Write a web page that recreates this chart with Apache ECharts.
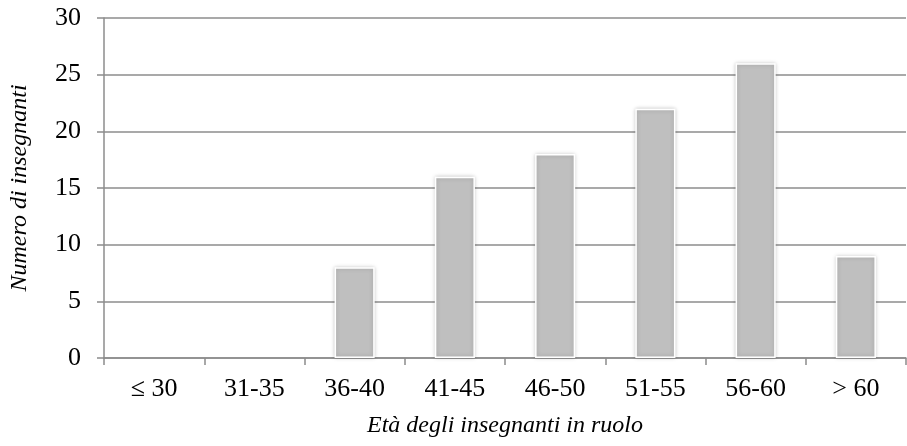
<!DOCTYPE html>
<html>
<head>
    <meta charset="utf-8">
    <title>Età degli insegnanti</title>
    <script src="https://cdn.jsdelivr.net/npm/echarts@6/dist/echarts.min.js"></script>
    <style>
        html, body { margin: 0; padding: 0; background: #fff; }
        #chart { width: 907px; height: 446px; }
    </style>
</head>
<body>
    <div id="chart"></div>
    <script>
        // categories and values
        var categories = ['\u2264 30', '31-35', '36-40', '41-45', '46-50', '51-55', '56-60', '> 60'];
        var teachers = [0, 0, 8, 16, 18, 22, 26, 9];
        var yTicks = [0, 5, 10, 15, 20, 25, 30];

        var chart = echarts.init(document.getElementById('chart'));
        var font = '"Liberation Serif", "Times New Roman", serif';
        var lineColor = '#8c8c8c';

        var option = {
            animation: false,
            grid: { left: 101, right: 1, top: 18, bottom: 88 },
            xAxis: {
                type: 'category',
                data: categories,
                name: 'Età degli insegnanti in ruolo',
                nameLocation: 'middle',
                nameGap: 56,
                nameTextStyle: { fontFamily: font, fontStyle: 'italic', fontSize: 24, color: '#000' },
                axisLine: { lineStyle: { color: lineColor, width: 1.5 } },
                axisTick: { show: true, length: 7, inside: false, lineStyle: { color: lineColor, width: 1.5 } },
                axisLabel: { fontFamily: font, fontSize: 26, color: '#000', margin: 18 }
            },
            yAxis: {
                type: 'value',
                min: yTicks[0],
                max: yTicks[yTicks.length - 1],
                interval: 5,
                name: 'Numero di insegnanti',
                nameLocation: 'middle',
                nameGap: 72,
                nameTextStyle: { fontFamily: font, fontStyle: 'italic', fontSize: 24, color: '#000' },
                axisLine: { show: true, lineStyle: { color: lineColor, width: 1.5 } },
                axisTick: { show: true, length: 7, lineStyle: { color: lineColor, width: 1.5 } },
                axisLabel: { fontFamily: font, fontSize: 26, color: '#000', margin: 23 },
                splitLine: { lineStyle: { color: lineColor, width: 1.5 } }
            },
            series: [{
                type: 'bar',
                // empty classes draw no bar at all
                data: teachers.map(function (v) { return v === 0 ? '-' : v; }),
                barWidth: '40%',
                itemStyle: {
                    color: '#bfbfbf',
                    borderColor: '#ffffff',
                    borderWidth: 1.5,
                    shadowBlur: 4,
                    shadowColor: 'rgba(0,0,0,0.2)'
                }
            }]
        };

        chart.setOption(option);
    </script>
</body>
</html>
